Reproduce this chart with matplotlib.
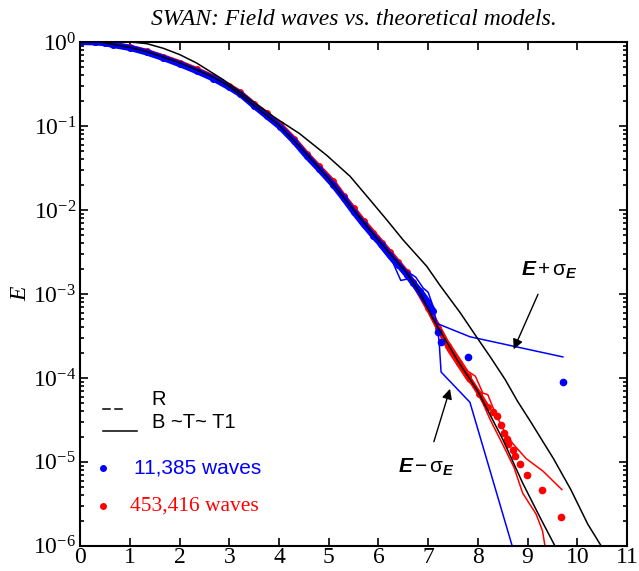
import numpy as np
import matplotlib.pyplot as plt
from matplotlib.ticker import LogLocator, NullFormatter

plt.rcParams['font.family'] = ['Liberation Serif', 'DejaVu Serif']
plt.rcParams['mathtext.fontset'] = 'custom'
plt.rcParams['mathtext.rm'] = 'Liberation Serif'
plt.rcParams['mathtext.it'] = 'Liberation Serif:italic'
plt.rcParams['mathtext.sf'] = 'Liberation Sans'
plt.rcParams['mathtext.bf'] = 'Liberation Sans:bold:italic'

# red data: 453,416 waves (x, log10 E)
red_x = [0, 0.3, 0.5, 0.67, 1.0, 1.34, 1.67, 2.01, 2.34, 2.68, 3.0, 3.22, 3.5,
         3.75, 4.02, 4.3, 4.56, 4.8, 5.09, 5.3, 5.5, 5.7, 5.9, 6.07, 6.23, 6.4,
         6.57, 6.7, 6.84, 7.0, 7.2, 7.4, 7.62, 7.8, 8.03, 8.2]
red_log = [0, -0.002, -0.01, -0.03, -0.06, -0.11, -0.175, -0.245, -0.325, -0.415,
           -0.52, -0.6, -0.74, -0.85, -0.98, -1.15, -1.33, -1.48, -1.66, -1.83,
           -1.98, -2.13, -2.27, -2.39, -2.5, -2.62, -2.74, -2.86, -2.98, -3.17,
           -3.4, -3.62, -3.82, -3.98, -4.19, -4.35]
red_tail_x = [8.3, 8.38, 8.47, 8.52, 8.59, 8.6, 8.71, 8.75, 8.85, 8.99, 9.30, 9.67]
red_tail_log = [-4.4, -4.45, -4.56, -4.66, -4.73, -4.79, -4.86, -4.93, -5.03,
                -5.16, -5.33, -5.66]
red_up_x = [6.0, 6.6, 7.0, 7.4, 7.8, 7.95, 8.1, 8.2, 8.35, 8.52, 8.7, 8.97, 9.31, 9.69]
red_up_log = [-2.31, -2.74, -3.12, -3.56, -3.92, -3.98, -4.18, -4.2, -4.42, -4.62,
              -4.78, -4.96, -5.11, -5.33]
red_lo_x = [6.0, 6.6, 7.0, 7.4, 7.8, 7.95, 8.1, 8.25, 8.49, 8.73, 8.90, 9.17, 9.30, 9.35]
red_lo_log = [-2.37, -2.8, -3.22, -3.68, -4.04, -4.1, -4.3, -4.5, -4.78, -5.07,
              -5.37, -5.62, -5.82, -6.0]

# blue data: 11,385 waves
blue_x = [0, 0.3, 0.5, 0.67, 1.0, 1.34, 1.67, 2.01, 2.34, 2.68, 3.0, 3.22, 3.5,
          3.75, 4.02, 4.3, 4.56, 4.8, 5.09, 5.3, 5.5, 5.7, 5.9, 6.07, 6.23, 6.4,
          6.57, 6.7, 6.84, 7.0, 7.1]
blue_log = [0, -0.004, -0.014, -0.036, -0.07, -0.125, -0.19, -0.265, -0.345, -0.435,
            -0.54, -0.62, -0.76, -0.88, -1.01, -1.18, -1.36, -1.51, -1.7, -1.86,
            -2.02, -2.17, -2.31, -2.42, -2.54, -2.65, -2.77, -2.87, -2.97, -3.1, -3.2]
blue_tail_x = [7.2, 7.26, 7.81, 9.72]
blue_tail_log = [-3.45, -3.57, -3.75, -4.05]
blue_up_x = [6.0, 6.3, 6.5, 6.6, 6.75, 6.9, 7.0, 7.1, 7.17, 7.84, 9.71]
blue_up_log = [-2.34, -2.55, -2.7, -2.74, -2.8, -2.93, -2.98, -3.15, -3.35, -3.51, -3.75]
blue_lo_x = [6.0, 6.3, 6.45, 6.6, 6.8, 7.0, 7.17, 7.22, 7.26, 7.84, 8.69]
blue_lo_log = [-2.42, -2.64, -2.84, -2.82, -3.0, -3.18, -3.35, -3.56, -3.93, -4.29, -6.0]

# model curves
inner_x = [0, 0.4, 0.67, 1.0, 1.34, 1.67, 2.01, 2.34, 2.68, 3.0, 3.5, 4.0, 4.5,
           5.0, 5.5, 5.9, 6.23, 6.57, 6.84, 7.1, 7.6, 8.0, 8.5, 8.9, 9.25, 9.55]
inner_log = [0, 0, -0.03, -0.065, -0.115, -0.18, -0.25, -0.33, -0.42, -0.53, -0.76,
             -0.99, -1.3, -1.63, -2.0, -2.29, -2.52, -2.75, -2.99, -3.3, -3.8,
             -4.16, -4.73, -5.25, -5.66, -6.0]
outer_x = [0, 0.5, 1.0, 1.34, 1.67, 2.0, 2.34, 2.88, 3.45, 3.89, 4.41, 4.96,
           5.43, 5.83, 6.17, 6.5, 6.97, 7.24, 7.64, 7.96, 8.25, 8.55, 8.8, 9.06,
           9.31, 9.52, 9.87, 10.21, 10.48]
outer_log = [0, 0, 0, -0.02, -0.075, -0.15, -0.25, -0.45, -0.7, -0.89, -1.09,
             -1.35, -1.6, -1.88, -2.12, -2.36, -2.67, -2.9, -3.22, -3.5, -3.75,
             -4.02, -4.28, -4.52, -4.76, -4.96, -5.33, -5.74, -6.0]


def E(v):
    return 10.0 ** np.array(v)


fig = plt.figure(figsize=(6.39, 5.71), dpi=100)
ax = fig.add_axes([0.1255, 0.044, 0.8557, 0.8825])

ax.plot(red_up_x, E(red_up_log), color='red', lw=1.1)
ax.plot(red_lo_x, E(red_lo_log), color='red', lw=1.1)
ax.plot(red_x, E(red_log), color='red', lw=3.5, marker='o', ms=4, solid_capstyle='round')
ax.plot(red_tail_x, E(red_tail_log), 'o', color='red', ms=4.5)

ax.plot(blue_up_x, E(blue_up_log), color='blue', lw=1.1)
ax.plot(blue_lo_x, E(blue_lo_log), color='blue', lw=1.1)
ax.plot(blue_x, E(blue_log), color='blue', lw=4.5, marker='o', ms=4, solid_capstyle='round')
ax.plot(blue_tail_x, E(blue_tail_log), 'o', color='blue', ms=4.5)

ax.plot(outer_x, E(outer_log), color='black', lw=1.1)
ax.plot(inner_x, E(inner_log), color='black', lw=1.1)

ax.set_yscale('log')
ax.set_xlim(0, 11)
ax.set_ylim(1e-6, 1)
ax.set_xticks(range(12))
ax.yaxis.set_major_locator(LogLocator(base=10, numticks=10))
ax.yaxis.set_minor_locator(LogLocator(base=10, subs=np.arange(2, 10), numticks=10))
ax.yaxis.set_minor_formatter(NullFormatter())
ax.tick_params(which='both', direction='in', top=True, right=True, width=1.2)
ax.tick_params(which='major', length=6, labelsize=17)
ax.tick_params(axis='x', pad=1)
ax.tick_params(axis='y', pad=3)
ax.tick_params(which='minor', length=3)
for s in ax.spines.values():
    s.set_linewidth(1.5)

ax.set_ylabel('E', fontsize=17, style='italic')
ax.yaxis.set_label_coords(-0.09, 0.5)
ax.set_title('SWAN: Field waves vs. theoretical models.', fontsize=17,
             style='italic', pad=12)

# legend drawn by hand
sans = ['Liberation Sans', 'DejaVu Sans']
ax.plot([0.042, 0.055], [0.272, 0.272], color='black', lw=1.1, transform=ax.transAxes)
ax.plot([0.064, 0.077], [0.272, 0.272], color='black', lw=1.1, transform=ax.transAxes)
ax.plot([0.042, 0.104], [0.227, 0.227], color='black', lw=1.1, transform=ax.transAxes)
ax.text(0.131, 0.29, 'R', transform=ax.transAxes, fontsize=14.5, family=sans,
        va='center')
ax.text(0.131, 0.244, 'B ~T~ T1', transform=ax.transAxes, fontsize=14.5, family=sans,
        va='center')
ax.plot([0.042], [0.155], 'o', color='blue', ms=4, transform=ax.transAxes)
ax.text(0.0985, 0.155, '11,385 waves', transform=ax.transAxes, fontsize=15,
        family=sans, color='blue', va='center')
ax.plot([0.042], [0.079], 'o', color='red', ms=4, transform=ax.transAxes)
ax.text(0.091, 0.079, '453,416 waves', transform=ax.transAxes, fontsize=15.5,
        color='red', va='center')

ax.annotate(r'$\mathbf{E}\,\mathsf{+}\,\mathsf{\sigma}_{\mathbf{E}}$',
            xy=(8.72, E(-3.66)), xytext=(9.43, E(-2.71)), fontsize=15,
            ha='center', va='center',
            arrowprops=dict(arrowstyle='-|>', color='black', lw=1,
                            shrinkA=9, shrinkB=0))
ax.annotate(r'$\mathbf{E}\,\mathsf{-}\,\mathsf{\sigma}_{\mathbf{E}}$',
            xy=(7.44, E(-4.13)), xytext=(6.96, E(-5.06)), fontsize=15,
            ha='center', va='center',
            arrowprops=dict(arrowstyle='-|>', color='black', lw=1,
                            shrinkA=9, shrinkB=0))

fig.savefig('out.png', dpi=100)
